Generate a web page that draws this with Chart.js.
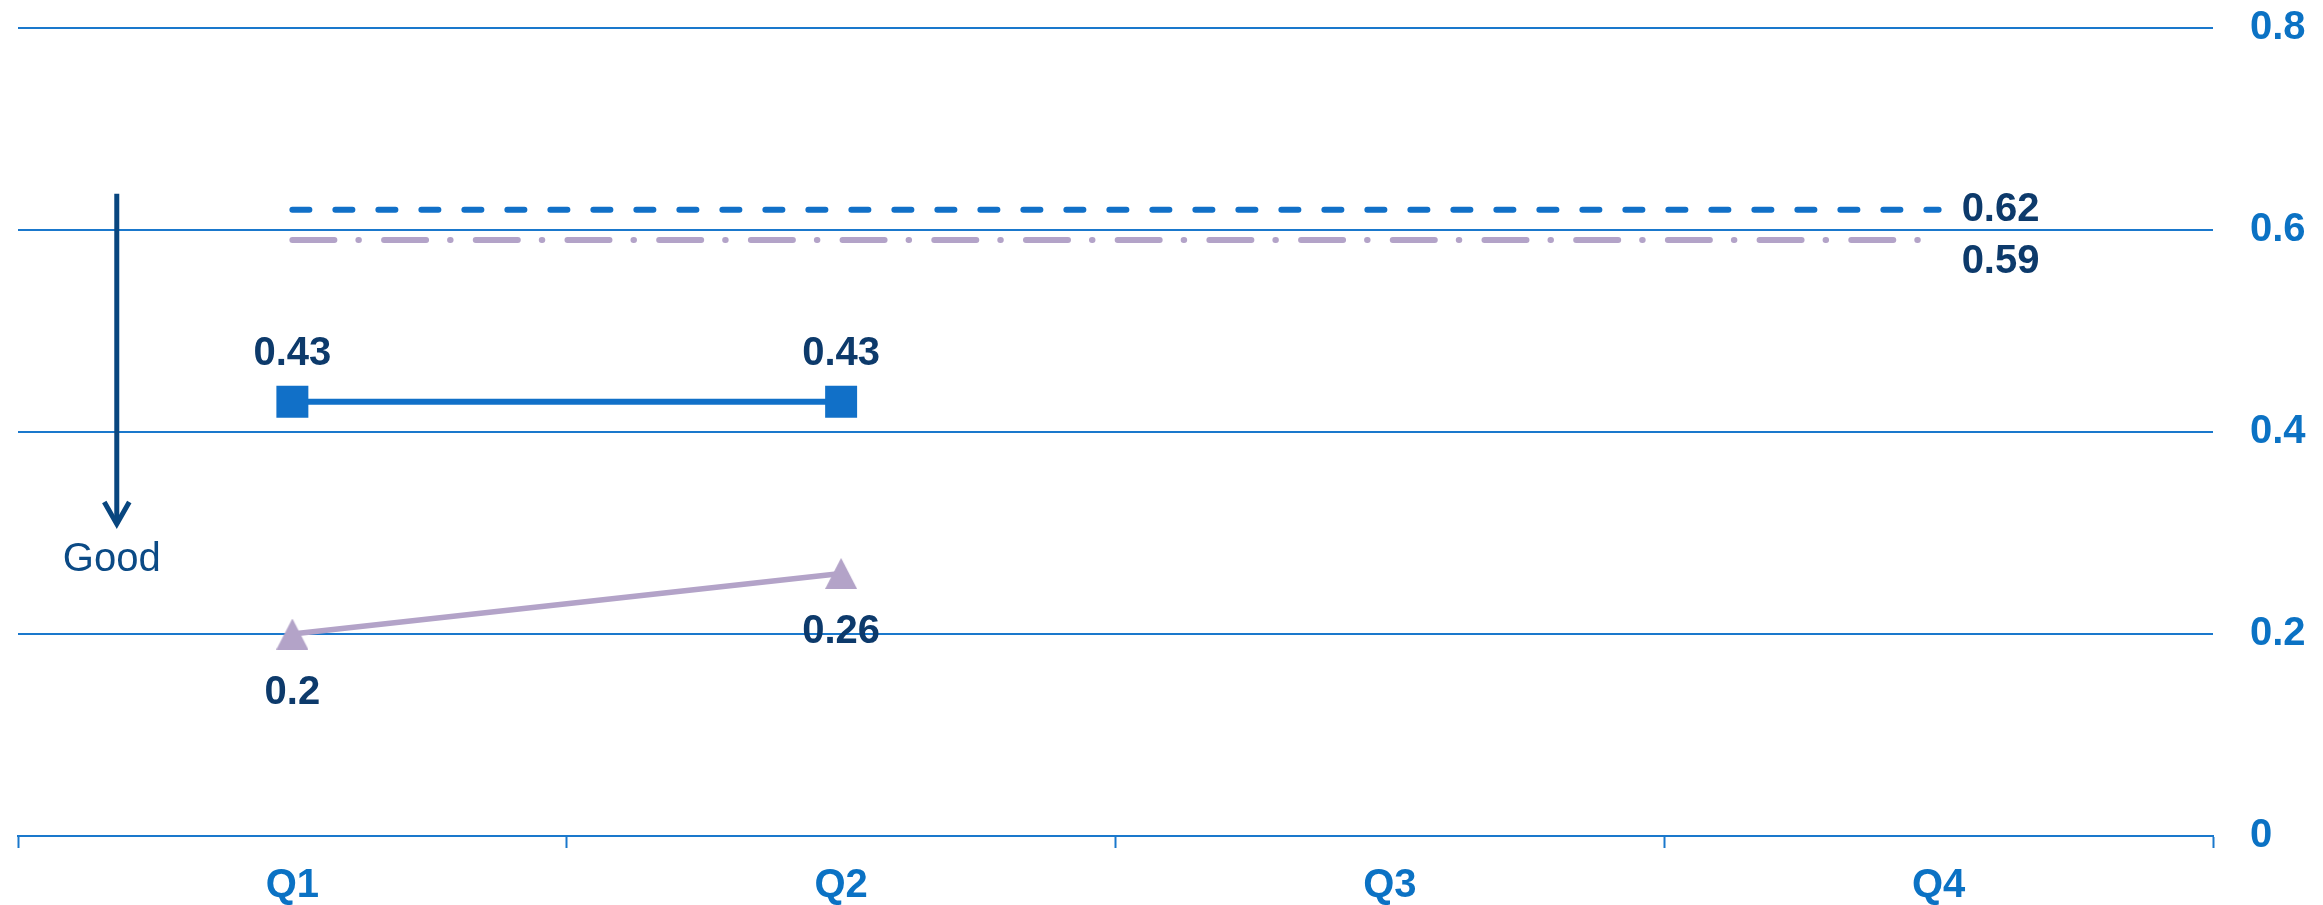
<!DOCTYPE html>
<html>
<head>
<meta charset="utf-8">
<script src="https://cdn.jsdelivr.net/npm/chart.js@4/dist/chart.umd.min.js"></script>
<style>
  html, body { margin: 0; padding: 0; background: #ffffff; }
  #wrap { width: 2323px; height: 905px; position: relative; }
</style>
</head>
<body>
<div id="wrap"><canvas id="chart" width="2323" height="905"></canvas></div>
<script>
// Quarterly categories and y-axis ticks
const categories = ['Q1', 'Q2', 'Q3', 'Q4'];
const yTicks = [0, 0.2, 0.4, 0.6, 0.8];

// Series values
const actualValues = [0.43, 0.43, null, null];
const peerValues = [0.2, 0.26, null, null];
const targetValues = [0.62, 0.62, 0.62, 0.62];
const benchmarkValues = [0.59, 0.59, 0.59, 0.59];

const FONT = '"Liberation Sans", Arial, Helvetica, sans-serif';
const BLUE = '#1170c8';
const PURPLE = '#b3a3c8';
const LABEL_DARK = '#0d3a6b';
const AXIS_BLUE = '#0b72c4';
const GRID_BLUE = '#1a78cc';

// Upward-pointing triangle marker
function makeTriangle(w, h, color) {
  const c = document.createElement('canvas');
  c.width = w; c.height = h;
  const g = c.getContext('2d');
  g.fillStyle = color;
  g.beginPath();
  g.moveTo(w / 2, 0);
  g.lineTo(w, h);
  g.lineTo(0, h);
  g.closePath();
  g.fill();
  return c;
}
const triangleMarker = makeTriangle(32, 31, PURPLE);

// Value labels next to the points
const valueLabels = {
  id: 'valueLabels',
  afterDatasetsDraw(chart) {
    const ctx = chart.ctx;
    ctx.save();
    ctx.font = 'bold 40px ' + FONT;
    ctx.fillStyle = LABEL_DARK;
    chart.data.datasets.forEach((ds, i) => {
      const meta = chart.getDatasetMeta(i);
      const mode = ds.labelMode;
      meta.data.forEach((pt, j) => {
        const v = ds.data[j];
        if (v === null || v === undefined) return;
        const text = String(v);
        if (mode === 'above') {
          ctx.textAlign = 'center';
          ctx.textBaseline = 'alphabetic';
          ctx.fillText(text, pt.x, pt.y - 37);
        } else if (mode === 'below') {
          ctx.textAlign = 'center';
          ctx.textBaseline = 'alphabetic';
          ctx.fillText(text, pt.x, pt.y + 70);
        } else if (mode === 'end' && j === ds.data.length - 1) {
          ctx.textAlign = 'left';
          ctx.textBaseline = 'middle';
          ctx.fillText(text, pt.x + 23, pt.y + (ds.labelShift || 0));
        }
      });
    });
    ctx.restore();
  }
};

// "Good" direction arrow on the left side
const goodArrow = {
  id: 'goodArrow',
  afterDraw(chart) {
    const ctx = chart.ctx;
    const x = chart.scales.x.getPixelForValue(-0.32);
    const y0 = chart.scales.y.getPixelForValue(0.636);
    const y1 = chart.scales.y.getPixelForValue(0.307);
    ctx.save();
    ctx.strokeStyle = '#08467f';
    ctx.lineWidth = 5;
    ctx.lineCap = 'butt';
    ctx.beginPath();
    ctx.moveTo(x, y0);
    ctx.lineTo(x, y1 - 2);
    ctx.stroke();
    ctx.lineJoin = 'miter';
    ctx.beginPath();
    ctx.moveTo(x - 12.5, y1 - 24);
    ctx.lineTo(x, y1 - 2);
    ctx.lineTo(x + 12.5, y1 - 24);
    ctx.stroke();
    ctx.font = '40px ' + FONT;
    ctx.fillStyle = '#0b4a85';
    ctx.textAlign = 'center';
    ctx.textBaseline = 'alphabetic';
    ctx.fillText('Good', x - 5, chart.scales.y.getPixelForValue(0.262));
    ctx.restore();
  }
};

new Chart(document.getElementById('chart'), {
  type: 'line',
  data: {
    labels: categories,
    datasets: [
      {
        label: 'Actual',
        data: actualValues,
        borderColor: BLUE,
        backgroundColor: BLUE,
        borderWidth: 6,
        pointStyle: 'rect',
        pointRadius: 22.6,
        pointBorderWidth: 0,
        labelMode: 'above'
      },
      {
        label: 'Peer',
        data: peerValues,
        borderColor: PURPLE,
        backgroundColor: PURPLE,
        borderWidth: 5.5,
        pointStyle: triangleMarker,
        pointRadius: 16,
        labelMode: 'below'
      },
      {
        label: 'Target',
        data: targetValues,
        borderColor: BLUE,
        borderWidth: 6,
        borderDash: [17, 26],
        borderCapStyle: 'round',
        pointRadius: 0,
        labelMode: 'end',
        labelShift: 0
      },
      {
        label: 'Benchmark',
        data: benchmarkValues,
        borderColor: PURPLE,
        borderWidth: 6,
        borderDash: [42, 24, 0.5, 25.2],
        borderCapStyle: 'round',
        pointRadius: 0,
        labelMode: 'end',
        labelShift: 22
      }
    ]
  },
  options: {
    responsive: false,
    animation: false,
    devicePixelRatio: 1,
    layout: { autoPadding: false, padding: { left: 18, right: 16, top: 28, bottom: 0 } },
    plugins: {
      legend: { display: false },
      tooltip: { enabled: false }
    },
    scales: {
      x: {
        type: 'category',
        offset: true,
        afterFit(scale) {
          scale.height = 69;
          scale.paddingLeft = 0;
          scale.paddingRight = 0;
        },
        grid: {
          display: true,
          drawOnChartArea: false,
          drawTicks: true,
          tickLength: 12,
          tickWidth: 2,
          tickColor: GRID_BLUE,
          offset: true
        },
        border: { display: true, color: GRID_BLUE, width: 2 },
        ticks: {
          color: AXIS_BLUE,
          font: { family: FONT, size: 40, weight: 'bold' },
          padding: 14,
          maxRotation: 0
        }
      },
      y: {
        position: 'right',
        min: 0,
        max: 0.8,
        afterBuildTicks(scale) {
          scale.ticks = yTicks.map(v => ({ value: v }));
        },
        afterFit(scale) {
          scale.width = 94;
          scale.paddingTop = 0;
          scale.paddingBottom = 0;
        },
        grid: {
          color: GRID_BLUE,
          lineWidth: 2,
          drawTicks: false
        },
        border: { display: false },
        ticks: {
          color: AXIS_BLUE,
          font: { family: FONT, size: 40, weight: 'bold' },
          padding: 37,
          callback: v => String(v)
        }
      }
    }
  },
  plugins: [valueLabels, goodArrow]
});
</script>
</body>
</html>
